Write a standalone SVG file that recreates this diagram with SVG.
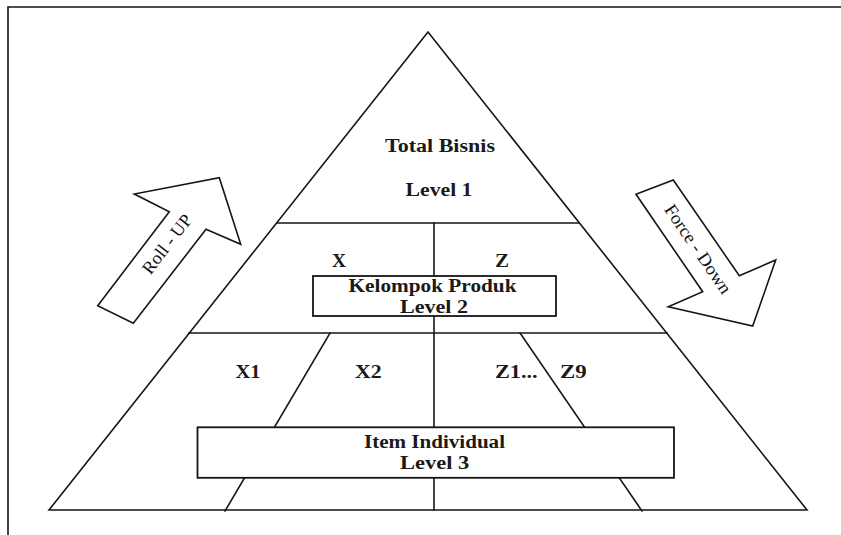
<svg xmlns="http://www.w3.org/2000/svg" width="841" height="535" viewBox="0 0 841 535">
  <style>
    .ln { stroke: #151515; stroke-width: 1.6; fill: none; stroke-linecap: square; }
    .box { stroke: #151515; stroke-width: 1.8; fill: #ffffff; }
    .arrow { stroke: #151515; stroke-width: 1.6; fill: #ffffff; stroke-linejoin: miter; }
    .t { font-family: "Liberation Serif", "Times New Roman", serif; font-size: 18px; font-weight: bold; fill: #1a1a1a; text-anchor: middle; }
    .a { font-family: "Liberation Serif", "Times New Roman", serif; font-size: 18px; fill: #111111; text-anchor: middle; }
  </style>
  <rect width="841" height="535" fill="#ffffff"/>
  <g id="frame">
    <path class="ln" d="M8,535 V7 H841" stroke-width="2"/>
  </g>
  <g id="connectors">
    <polygon class="ln" points="428,32 49,510 807,510"/>
    <line class="ln" x1="277" y1="223" x2="579" y2="223"/>
    <line class="ln" x1="189" y1="333" x2="667" y2="333"/>
    <line class="ln" x1="434" y1="223" x2="434" y2="510"/>
    <line class="ln" x1="330" y1="333" x2="225" y2="511"/>
    <line class="ln" x1="520" y1="333" x2="642" y2="511"/>
  </g>
  <g id="level1">
    <text class="t" x="440" y="152" textLength="110" lengthAdjust="spacingAndGlyphs">Total Bisnis</text>
    <text class="t" x="439" y="196" textLength="67" lengthAdjust="spacingAndGlyphs">Level 1</text>
  </g>
  <g id="level2">
    <text class="t" x="339" y="266.5" textLength="14" lengthAdjust="spacingAndGlyphs">X</text>
    <text class="t" x="502" y="266.5" textLength="14" lengthAdjust="spacingAndGlyphs">Z</text>
    <rect class="box" x="313" y="276" width="243" height="40"/>
    <text class="t" x="432.5" y="291.5" textLength="168" lengthAdjust="spacingAndGlyphs">Kelompok Produk</text>
    <text class="t" x="434" y="313" textLength="68" lengthAdjust="spacingAndGlyphs">Level 2</text>
  </g>
  <g id="level3">
    <text class="t" x="248" y="377.7" textLength="25" lengthAdjust="spacingAndGlyphs">X1</text>
    <text class="t" x="368.3" y="377.7" textLength="26.7" lengthAdjust="spacingAndGlyphs">X2</text>
    <text class="t" x="516.3" y="377.7" textLength="42.7" lengthAdjust="spacingAndGlyphs">Z1...</text>
    <text class="t" x="573.3" y="377.7" textLength="26.7" lengthAdjust="spacingAndGlyphs">Z9</text>
    <rect class="box" x="197.5" y="427.3" width="476.5" height="50.5"/>
    <text class="t" x="434.5" y="447.7" textLength="141" lengthAdjust="spacingAndGlyphs">Item Individual</text>
    <text class="t" x="434.7" y="469.3" textLength="69.3" lengthAdjust="spacingAndGlyphs">Level 3</text>
  </g>
  <g id="roll-up">
    <polygon class="arrow" points="97.7,305.7 169.3,211.7 134.3,194 219.3,177.7 240.7,244.3 206,229.3 133.3,323.3"/>
    <text class="a" transform="translate(167,244) rotate(-52.5)" x="0" y="6" textLength="70" lengthAdjust="spacingAndGlyphs">Roll - UP</text>
  </g>
  <g id="force-down">
    <polygon class="arrow" points="636,194.3 673.3,180 739.3,275.7 775.7,260 752.7,326 668.3,306.7 702.7,291.7"/>
    <text class="a" transform="translate(698,249) rotate(55.6)" x="0" y="6" textLength="104" lengthAdjust="spacingAndGlyphs">Force - Down</text>
  </g>
</svg>
